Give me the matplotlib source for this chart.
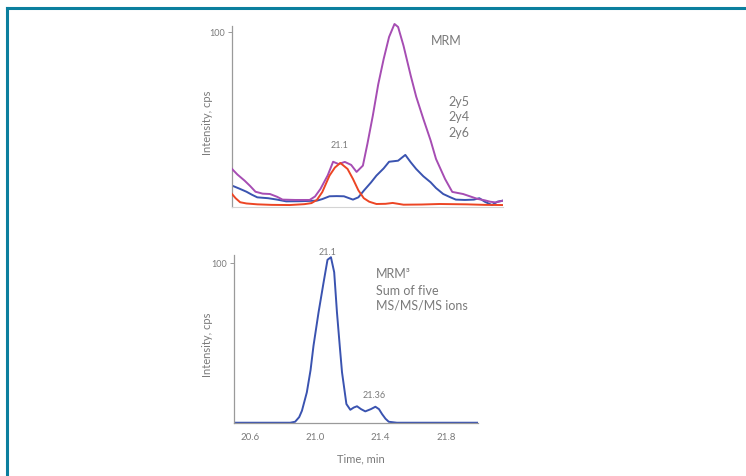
import numpy as np
import matplotlib
matplotlib.use("Agg")
import matplotlib.pyplot as plt
from matplotlib.lines import Line2D

plt.rcParams['font.family'] = ['Lato', 'DejaVu Sans']

# top panel: MRM traces (time in min, intensity normalised)
t_2y5 = [20.50, 20.53, 20.57, 20.60, 20.63, 20.67, 20.71, 20.75, 20.78, 20.85, 20.93, 20.96,
         20.99, 21.03, 21.06, 21.09, 21.125, 21.16, 21.19, 21.225, 21.25, 21.28, 21.31,
         21.34, 21.37, 21.40, 21.42, 21.45, 21.49, 21.52, 21.56, 21.60, 21.63, 21.68,
         21.72, 21.78, 21.82, 21.86, 21.90, 21.93, 21.96, 22.00]
i_2y5 = [21.7, 18.5, 15.0, 12.0, 8.7, 7.6, 7.4, 5.8, 4.2, 4.0, 4.0, 6.0,
         10.3, 18.0, 25.8, 24.5, 25.7, 24.0, 20.0, 23.6, 36.0, 52.1, 70.0,
         84.4, 97.0, 104.4, 102.7, 92.0, 74.9, 63.0, 50.2, 38.0, 27.4, 16.0,
         8.6, 7.4, 6.0, 4.6, 3.8, 3.0, 2.6, 3.6]

t_2y4 = [20.50, 20.54, 20.58, 20.61, 20.64, 20.70, 20.75, 20.80, 20.88, 20.97, 21.00,
         21.04, 21.08, 21.12, 21.17, 21.20, 21.23, 21.27, 21.30, 21.34, 21.37, 21.42,
         21.46, 21.49, 21.52, 21.56, 21.60, 21.63, 21.67, 21.71, 21.74, 21.79, 21.84,
         21.87, 21.90, 21.94, 21.97, 22.00]
i_2y4 = [12.2, 10.5, 8.7, 7.0, 5.5, 5.0, 4.2, 3.2, 3.3, 3.6, 4.5,
         6.1, 6.2, 6.1, 4.2, 5.5, 9.3, 14.0, 17.9, 22.0, 25.8, 26.4,
         29.7, 25.5, 21.7, 17.5, 14.1, 10.8, 7.4, 5.5, 4.2, 4.0, 4.2,
         5.0, 3.0, 1.1, 3.0, 3.6]

t_2y6 = [20.50, 20.52, 20.545, 20.58, 20.64, 20.72, 20.82, 20.90, 20.94, 20.97, 21.00,
         21.04, 21.07, 21.10, 21.14, 21.17, 21.20, 21.23, 21.26, 21.30, 21.35, 21.39,
         21.45, 21.55, 21.65, 21.80, 21.90, 22.00]
i_2y6 = [7.4, 5.0, 2.7, 2.0, 1.5, 1.2, 1.1, 1.6, 2.2, 4.0, 8.5,
         17.9, 22.5, 25.1, 21.7, 16.0, 9.5, 5.0, 3.0, 1.7, 1.8, 2.3,
         1.3, 1.4, 1.7, 1.5, 1.2, 1.1]

# bottom panel: MRM3, sum of five MS/MS/MS ions
t_mrm3 = [20.50, 20.70, 20.845, 20.875, 20.90, 20.917, 20.947, 20.97, 20.988, 21.019,
          21.05, 21.074, 21.095, 21.115, 21.132, 21.15, 21.163, 21.19, 21.214, 21.235,
          21.255, 21.28, 21.306, 21.34, 21.368, 21.39, 21.409, 21.43, 21.45, 21.50,
          21.70, 22.00]
i_mrm3 = [0.0, 0.0, 0.0, 0.6, 3.5, 7.5, 19.0, 33.0, 48.2, 69.1,
          87.9, 102.0, 103.6, 94.2, 69.1, 47.0, 31.6, 11.7, 8.1, 9.5,
          10.3, 8.5, 7.1, 8.5, 10.0, 8.5, 5.4, 2.5, 0.6, 0.0,
          0.0, 0.0]

x_ticks = [20.6, 21.0, 21.4, 21.8]
top_labels = ['2y5', '2y4', '2y6']
top_colors = ['#a64db3', '#3a53b0', '#ec4524']

grey = '#7a7a7a'

fig = plt.figure(figsize=(7.46, 4.77), dpi=100)

# teal frame (top and left edges)
fig.add_artist(Line2D([6.5 / 746, 1.0], [1 - 8.5 / 477] * 2, color='#0b7f9e', lw=2.2))
fig.add_artist(Line2D([7 / 746] * 2, [0.0, 1 - 8.5 / 477], color='#0b7f9e', lw=2.2))

ax1 = fig.add_axes([0.311, 0.564, 0.363, 0.3895])
ax2 = fig.add_axes([0.3137, 0.1117, 0.3275, 0.355])

ax1.plot(t_2y5, i_2y5, color=top_colors[0], lw=1.4, zorder=3)
ax1.plot(t_2y4, i_2y4, color=top_colors[1], lw=1.4, zorder=2)
ax1.plot(t_2y6, i_2y6, color=top_colors[2], lw=1.4, zorder=4)
ax2.plot(t_mrm3, i_mrm3, color='#3a53b0', lw=1.4)

for ax in (ax1, ax2):
    ax.set_xlim(20.5, 22.0)
    ax.set_ylim(0, 106)
    ax.set_yticks([100])
    ax.spines['top'].set_visible(False)
    ax.spines['right'].set_visible(False)
    ax.spines['left'].set_color('#9a9a9a')
    ax.spines['left'].set_linewidth(0.9)
    ax.tick_params(axis='y', length=3, width=0.7, color='#9a9a9a',
                   labelsize=6.5, labelcolor=grey, pad=2)
    ax.set_ylabel('Intensity, cps', fontsize=8, color=grey)

ax1.spines['left'].set_bounds(0, 103)
ax1.spines['bottom'].set_color('#d4d4d4')
ax1.spines['bottom'].set_linewidth(0.8)
ax1.set_xticks([])
ax1.yaxis.set_label_coords(-0.071, 0.46)

ax2.spines['left'].set_bounds(0, 105)
ax2.spines['bottom'].set_color('#9a9a9a')
ax2.spines['bottom'].set_linewidth(0.9)
ax2.set_xticks(x_ticks)
ax2.set_xticklabels(['%.1f' % v for v in x_ticks])
ax2.tick_params(axis='x', length=0, labelsize=7, labelcolor=grey, pad=7)
ax2.set_xlabel('Time, min', fontsize=8, color=grey)
ax2.xaxis.set_label_coords(0.52, -0.175)
ax2.yaxis.set_label_coords(-0.087, 0.465)

# peak annotations, taken from the data
k = int(np.argmax(i_2y6))
ax1.text(t_2y6[k] - 0.005, i_2y6[k] + 9, '21.1', fontsize=6.5, color=grey, ha='center')
k = int(np.argmax(i_mrm3))
ax2.text(t_mrm3[k] - 0.02, i_mrm3[k] + 2, '21.1', fontsize=6.5, color=grey, ha='center')
ax2.text(21.36, 10.0 + 6, '21.36', fontsize=6.5, color=grey, ha='center')

ax1.text(0.733, 0.90, 'MRM', transform=ax1.transAxes, fontsize=9, color=grey, va='center')
for lab, yy in zip(top_labels, [0.572, 0.490, 0.405]):
    ax1.text(0.80, yy, lab, transform=ax1.transAxes, fontsize=9, color=grey, va='center')

for lab, yy in zip(['MRM³', 'Sum of five', 'MS/MS/MS ions'], [0.882, 0.786, 0.697]):
    ax2.text(0.581, yy, lab, transform=ax2.transAxes, fontsize=9, color=grey, va='center')

fig.savefig('out.png', dpi=100)
